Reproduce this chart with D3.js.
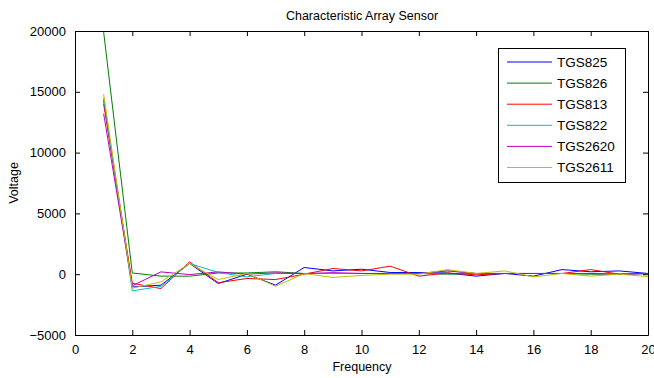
<!DOCTYPE html>
<html>
<head>
<meta charset="utf-8">
<script src="https://cdn.jsdelivr.net/npm/d3@7"></script>
<style>
  body { margin: 0; background: #fff; }
  svg text { font-family: "Liberation Sans", Arial, sans-serif; fill: #000; }
</style>
</head>
<body>
<svg id="chart" width="654" height="378"></svg>
<script>
// data
const freq = d3.range(1, 21);
const sensorNames = ['TGS825', 'TGS826', 'TGS813', 'TGS822', 'TGS2620', 'TGS2611'];
const sensorColors = ['#0000ff', '#008000', '#ff0000', '#00bfbf', '#bf00bf', '#bfbf00'];

const tgs825  = [14300, -1050, -900, 880, -770, 0, -900, 550, 270, 410, 140, 140, 100, -160, 60, -160, 380, 200, 270, 60];
const tgs826  = [19900, 100, -160, -160, 100, 100, 200, 60, 60, 60, 60, 60, 0, 60, 60, 60, 60, 0, 0, 60];
const tgs813  = [14000, -750, -1180, 1010, -700, -350, -440, 0, 470, 270, 660, -160, 100, -50, 60, 60, 60, 380, 0, 60];
const tgs822  = [14500, -1370, -1000, 880, 140, -220, 60, 50, 60, 60, 60, 60, 270, 60, 60, 60, 60, 60, 0, 60];
const tgs2620 = [13200, -950, 190, -30, 190, 0, 110, 50, 130, 60, 60, 60, 270, 60, 60, 60, 60, 60, 0, 60];
const tgs2611 = [14800, -1150, -630, 880, -440, 60, -990, 50, -270, -100, 0, 0, 380, 60, 270, -220, 60, -160, 0, -200];

const seriesValues = [tgs825, tgs826, tgs813, tgs822, tgs2620, tgs2611];

const xTicks = d3.range(0, 21, 2);
const yTicks = d3.range(-5000, 20001, 5000);

const svg = d3.select('#chart');
const margin = {left: 75, right: 6, top: 31, bottom: 43};
const W = 654, H = 378;

const x = d3.scaleLinear().domain([0, 20]).range([margin.left, W - margin.right]);
const y = d3.scaleLinear().domain([-5000, 20000]).range([H - margin.bottom, margin.top]);

//lines
const line = d3.line().x((d, i) => x(freq[i])).y(d => y(d));
svg.append('g').selectAll('path')
  .data(seriesValues)
  .join('path')
    .attr('d', line)
    .attr('fill', 'none')
    .attr('stroke', (d, i) => sensorColors[i])
    .attr('stroke-width', 1);

//axes, matlab style (ticks inside, box all round)
const tl = 5;
const axBottom = svg.append('g').attr('transform', `translate(0,${y(-5000)})`)
  .call(d3.axisBottom(x).tickValues(xTicks).tickSizeInner(-tl).tickSizeOuter(0).tickPadding(10));
const axTop = svg.append('g').attr('transform', `translate(0,${y(20000)})`)
  .call(d3.axisTop(x).tickValues(xTicks).tickSizeInner(-tl).tickSizeOuter(0).tickFormat(''));
const axLeft = svg.append('g').attr('transform', `translate(${x(0)},0)`)
  .call(d3.axisLeft(y).tickValues(yTicks).tickSizeInner(-tl).tickSizeOuter(0).tickPadding(9).tickFormat(d3.format('d')));
const axRight = svg.append('g').attr('transform', `translate(${x(20)},0)`)
  .call(d3.axisRight(y).tickValues(yTicks).tickSizeInner(-tl).tickSizeOuter(0).tickFormat(''));

[axBottom, axTop, axLeft, axRight].forEach(g => {
  g.selectAll('.domain').attr('stroke', '#000').attr('stroke-width', 1);
  g.selectAll('.tick line').attr('stroke', '#000');
  g.selectAll('text').style('font-size', '13px').attr('fill', '#000');
});
axBottom.selectAll('text').attr('dy', '0.71em');

//titles
svg.append('text').attr('x', 362).attr('y', 20).attr('text-anchor', 'middle')
  .style('font-size', '12.5px').text('Characteristic Array Sensor');
svg.append('text').attr('x', 362).attr('y', 371).attr('text-anchor', 'middle')
  .style('font-size', '12.5px').text('Frequency');
svg.append('text').attr('transform', 'translate(18,183) rotate(-90)').attr('text-anchor', 'middle')
  .style('font-size', '12.5px').text('Voltage');

//legend
const lg = svg.append('g');
lg.append('rect').attr('x', 498.5).attr('y', 48.5).attr('width', 127).attr('height', 134)
  .attr('fill', '#fff').attr('stroke', '#000');
const rows = lg.selectAll('g.row').data(sensorNames).join('g')
  .attr('transform', (d, i) => `translate(0,${62 + i * 21.1})`);
rows.append('line').attr('x1', 507).attr('x2', 552).attr('y1', 0).attr('y2', 0)
  .attr('stroke', (d, i) => sensorColors[i]);
rows.append('text').attr('x', 557).attr('y', 0).attr('dy', '0.35em')
  .style('font-size', '13.5px').text(d => d);
</script>
</body>
</html>
